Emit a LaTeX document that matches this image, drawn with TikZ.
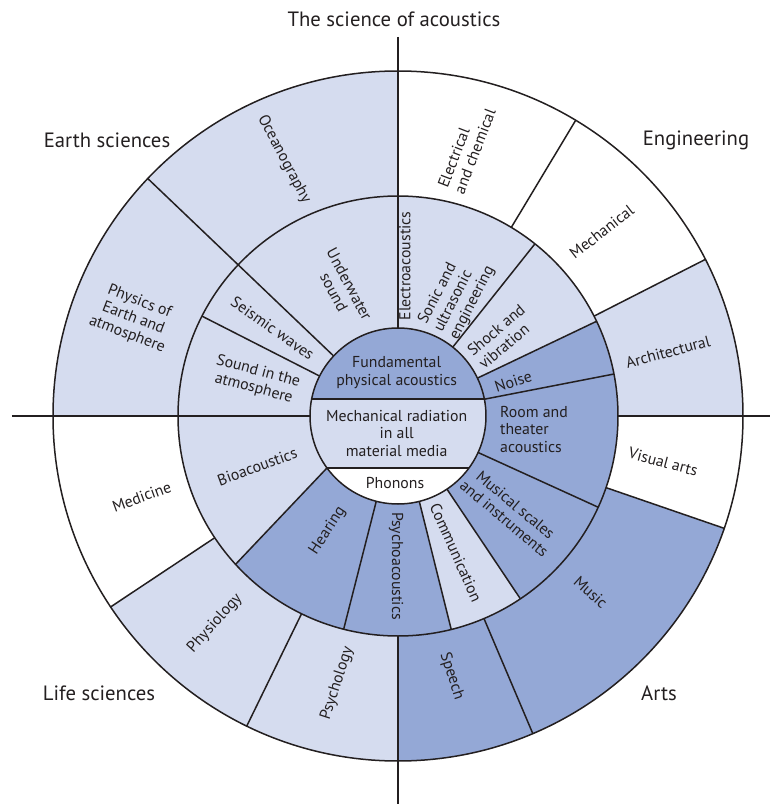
\documentclass[tikz,border=0pt]{standalone}
\usepackage{fontspec}
\setmainfont{PT Sans}
\usetikzlibrary{positioning}
\definecolor{ink}{HTML}{231F20}
\definecolor{paleblue}{HTML}{D5DCEF}
\definecolor{deepblue}{HTML}{94A8D6}

\begin{document}
\begin{tikzpicture}
[
    x=1pt, y=1pt,
    % The chart is centred on (0,0).
    % Ring labels are named L-<short name>, field titles T-<corner>
]

%=================================== Start ===================================
\tikzstyle{rim}   = [draw=ink, line width=1.5pt, line join=round]
\tikzstyle{lbl}   = [text=ink, align=center, inner sep=1pt,
                     font=\fontsize{15.8}{17.5}\selectfont]
\tikzstyle{field} = [text=ink, inner sep=1pt, font=\fontsize{20.7}{24}\selectfont]

\def\rIn{88pt} \def\rMid{220pt} \def\rOut{345pt}

\useasboundingbox (-398,-388) rectangle (372,416);

{
    % Outer ring sectors
    \foreach \a / \b / \c in {0/27/paleblue, 27/59/white, 59/90/white,
                              90/136.5/paleblue, 136.5/180/paleblue,
                              180/213.6/white, 213.6/244/paleblue,
                              244/270/paleblue, 270/293/deepblue,
                              293/341/deepblue, 341/360/white}
        \fill[\c] (\a:\rMid) arc[start angle=\a, end angle=\b, radius=\rMid]
              -- (\b:\rOut) arc[start angle=\b, end angle=\a, radius=\rOut] -- cycle;

    % Middle ring sectors (inner angle / outer angle of both edges)
    \foreach \ia / \oa / \ib / \ob / \c in {11/11/25.5/25.5/deepblue,
                                            25.5/25.5/51.5/51.5/paleblue,
                                            51.5/51.5/90/90/paleblue,
                                            90/90/137/137/paleblue,
                                            137/137/153/153/paleblue,
                                            153/153/180/180/paleblue,
                                            180/180/216.2/222.4/paleblue,
                                            216.2/222.4/255.7/255.7/deepblue,
                                            255.7/255.7/284/284/deepblue,
                                            284/284/303.8/303.8/paleblue,
                                            303.8/303.8/335.5/335.5/deepblue,
                                            335.5/335.5/371/371/deepblue}
        \fill[\c] (\ia:\rIn) arc[start angle=\ia, end angle=\ib, radius=\rIn]
              -- (\ob:\rMid) arc[start angle=\ob, end angle=\oa, radius=\rMid] -- cycle;

    % Inner disc: cap, band and bottom segment
    \fill[deepblue] (11:\rIn) arc[start angle=11, end angle=169, radius=\rIn] -- cycle;
    \fill[paleblue] (169:\rIn) arc[start angle=169, end angle=216.2, radius=\rIn]
          -- (323.8:\rIn) arc[start angle=323.8, end angle=371, radius=\rIn] -- cycle;
    \fill[white] (216.2:\rIn) arc[start angle=216.2, end angle=323.8, radius=\rIn] -- cycle;

    % Circles
    \foreach \r in {\rIn, \rMid, \rOut}
        \draw[rim] (0,0) circle[radius=\r];

    % Spokes of the outer ring
    \foreach \a in {27, 59, 213.6, 244, 293, 341}
        \draw[rim] (\a:\rMid) -- (\a:\rOut);
    % Spokes of the middle ring
    \foreach \ia / \oa in {11/11, 25.5/25.5, 51.5/51.5, 153/153,
                           216.2/222.4, 255.7/255.7, 284/284, 303.8/303.8, 335.5/335.5}
        \draw[rim] (\ia:\rIn) -- (\oa:\rMid);
    % One spoke through both rings
    \draw[rim] (137:\rIn) -- (136.5:\rOut);

    % Chords of the inner disc
    \draw[rim] (169:\rIn) -- (11:\rIn);
    \draw[rim] (216.2:\rIn) -- (323.8:\rIn);

    % Axes
    \coordinate (axis-n) at (0,379);
    \coordinate (axis-s) at (0,-388);
    \coordinate (axis-w) at (-386,0);
    \coordinate (axis-e) at (372,0);
    \draw[rim] (axis-n) -- (90:\rIn);
    \draw[rim] (axis-w) -- (180:\rIn);
    \draw[rim] (axis-e) -- (0:\rMid);
    \draw[rim] (axis-s) -- (270:\rMid);

    % Field titles
    \node[field] (T-top) at (-4,397)     {The science of acoustics};
    \node[field] (T-nw)  at (-291,276)   {Earth sciences};
    \node[field] (T-ne)  at (298,276)    {Engineering};
    \node[field] (T-sw)  at (-299,-277)  {Life sciences};
    \node[field] (T-se)  at (261,-277)   {Arts};

    % Outer ring labels
    \foreach \n / \x / \y / \r / \t in {ocean/-114/256.7/-62/Oceanography,
                                        earth/-264.7/97.7/-21/{Physics of\\Earth and\\atmosphere},
                                        mech/203.7/184.3/38/Mechanical,
                                        arch/270/64/15/Architectural,
                                        visual/265.3/-45.7/-15/Visual arts,
                                        music/192.7/-176.3/-42/Music,
                                        speech/53.7/-260/-72/Speech,
                                        psychol/-60.7/-267.3/72/Psychology,
                                        physiol/-183/-207.3/48/Physiology,
                                        medic/-256.3/-80.7/20/Medicine}
        \node[lbl, rotate=\r] (L-\n) at (\x,\y) {\t};
    \node[lbl, rotate=69, align=left] (L-elec) at (68.7,267.7) {Electrical\\and chemical};

    % Middle ring labels
    \foreach \n / \x / \y / \r / \t in {under/-56.3/127.7/-62/{Underwater\\sound},
                                        seism/-125.3/87.7/-35/Seismic waves,
                                        atmos/-142/36/-15/{Sound in the\\atmosphere},
                                        bio/-140.7/-50.7/20/Bioacoustics,
                                        hear/-70.3/-114.7/57/Hearing,
                                        psycho/-2/-150/-90/Psychoacoustics,
                                        comm/58/-136.7/-66/Communication,
                                        scales/112/-95.7/-40/{Musical scales\\and instruments},
                                        noise/115.3/34.3/18/Noise,
                                        electro/7/150/90/Electroacoustics}
        \node[lbl, rotate=\r] (L-\n) at (\x,\y) {\t};
    \node[lbl, rotate=63, align=left] (L-sonic) at (58.8,121) {Sonic and\\ultrasonic\\engineering};
    \node[lbl, rotate=40, align=left] (L-shock) at (103.7,79.3) {Shock and\\vibration};
    \node[lbl, anchor=west, align=left] (L-room) at (101,-13) {Room and\\theater\\acoustics};

    % Inner disc labels
    \node[lbl] (L-fund)  at (-1.3,43.5)  {Fundamental\\physical acoustics};
    \node[lbl] (L-media) at (-1.3,-17)   {Mechanical radiation\\in all\\material media};
    \node[lbl] (L-phon)  at (-3,-66.7)   {Phonons};
}
%==================================== END ====================================

\end{tikzpicture}
\end{document}
